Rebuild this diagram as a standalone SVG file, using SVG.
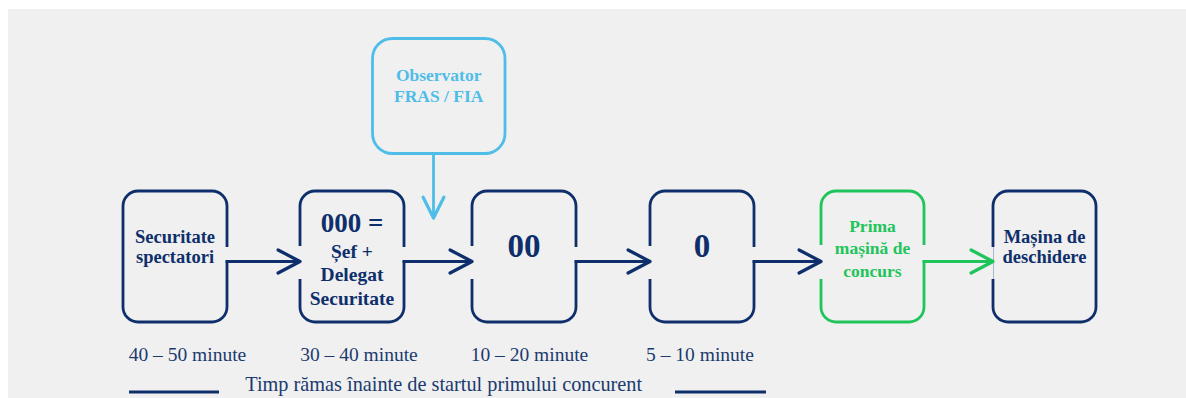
<svg xmlns="http://www.w3.org/2000/svg" width="1186" height="398" viewBox="0 0 1186 398">
<defs>
<style>
.bg{fill:#f0f0f0}
.box{fill:none;stroke:#0e2f6b;stroke-width:2.8}
.gbox{fill:none;stroke:#1fc45a;stroke-width:2.8}
.obox{fill:none;stroke:#4fbde8;stroke-width:2.8}
.gap{fill:#f0f0f0}
.t{font-family:"Liberation Serif","Times New Roman",serif;font-weight:bold;fill:#0e2f6b;text-anchor:middle}
.tg{fill:#1fc45a}
.to{fill:#4fbde8}
.lbl{font-family:"Liberation Serif","Times New Roman",serif;font-size:19.5px;fill:#1b3a6f;text-anchor:middle}
.lbl2{font-size:20.3px}
.c{fill:none;stroke:#0e2f6b;stroke-width:2.8}
.cg{fill:none;stroke:#1fc45a;stroke-width:2.8}
.co{fill:none;stroke:#4fbde8;stroke-width:2.8}
</style>
<marker id="ah" markerUnits="userSpaceOnUse" markerWidth="30" markerHeight="30" viewBox="-22 -13 26 26" refX="0" refY="0" orient="auto">
<path d="M-19,-10 L0,0 L-19,10" fill="none" stroke="#0e2f6b" stroke-width="2.8" stroke-linecap="round" stroke-linejoin="round"/>
</marker>
<marker id="ahg" markerUnits="userSpaceOnUse" markerWidth="30" markerHeight="30" viewBox="-22 -13 26 26" refX="0" refY="0" orient="auto">
<path d="M-19,-10 L0,0 L-19,10" fill="none" stroke="#1fc45a" stroke-width="2.8" stroke-linecap="round" stroke-linejoin="round"/>
</marker>
<marker id="aho" markerUnits="userSpaceOnUse" markerWidth="30" markerHeight="30" viewBox="-22 -13 26 26" refX="0" refY="0" orient="auto">
<path d="M-18,-9 L0,0 L-18,9" fill="none" stroke="#4fbde8" stroke-width="2.8" stroke-linecap="round" stroke-linejoin="round"/>
</marker>
</defs>
<rect x="0" y="0" width="1186" height="398" fill="#ffffff"/>
<rect class="bg" x="8" y="9" width="1178" height="389"/>

<g id="node-securitate-spectatori">
<rect class="box" x="123" y="191" width="104" height="131" rx="15"/>
<rect class="gap" x="224" y="247" width="6" height="13.5"/>
<text class="t" x="175" y="243" font-size="18.5">Securitate</text>
<text class="t" x="175" y="263" font-size="18.5">spectatori</text>
</g>

<g id="node-000">
<rect class="box" x="300" y="191" width="104" height="131" rx="15"/>
<rect class="gap" x="297" y="246" width="6" height="33"/>
<rect class="gap" x="401" y="247" width="6" height="13.5"/>
<text class="t" x="352" y="232" font-size="27">000 =</text>
<text class="t" x="352" y="257.5" font-size="19.5">Șef +</text>
<text class="t" x="352" y="281" font-size="19.5">Delegat</text>
<text class="t" x="352" y="305" font-size="19.5">Securitate</text>
</g>

<g id="node-00">
<rect class="box" x="472" y="191" width="104" height="131" rx="15"/>
<rect class="gap" x="469" y="246" width="6" height="33"/>
<rect class="gap" x="573" y="247" width="6" height="13.5"/>
<text class="t" x="524" y="256.5" font-size="33">00</text>
</g>

<g id="node-0">
<rect class="box" x="650" y="191" width="104" height="131" rx="15"/>
<rect class="gap" x="647" y="246" width="6" height="33"/>
<rect class="gap" x="751" y="247" width="6" height="13.5"/>
<text class="t" x="702" y="256.5" font-size="33">0</text>
</g>

<g id="node-prima-masina">
<rect class="gbox" x="821" y="191" width="103" height="131" rx="15"/>
<rect class="gap" x="818" y="245" width="6" height="34"/>
<rect class="gap" x="921" y="245" width="6" height="15.5"/>
<text class="t tg" x="872.5" y="231.5" font-size="17.5">Prima</text>
<text class="t tg" x="872.5" y="254" font-size="17.5">mașină de</text>
<text class="t tg" x="872.5" y="276.5" font-size="17.5">concurs</text>
</g>

<g id="node-masina-deschidere">
<rect class="box" x="993" y="191" width="103" height="131" rx="15"/>
<rect class="gap" x="990" y="247" width="6" height="32"/>
<line x1="993.5" y1="247" x2="993.5" y2="279" stroke="#a9b6cf" stroke-width="1"/>
<text class="t" x="1044.5" y="242.5" font-size="18.5">Mașina de</text>
<text class="t" x="1044.5" y="263" font-size="18.5">deschidere</text>
</g>

<g id="node-observator">
<rect class="obox" x="372.5" y="38.5" width="132.5" height="115" rx="20"/>
<text class="t to" x="438.7" y="81" font-size="17.5">Observator</text>
<text class="t to" x="438.7" y="102" font-size="17.5">FRAS / FIA</text>
</g>

<g id="connectors">
<path class="c" d="M225.6,261.5 H300" marker-end="url(#ah)"/>
<path class="c" d="M402.6,261.5 H472" marker-end="url(#ah)"/>
<path class="c" d="M574.6,261.5 H650" marker-end="url(#ah)"/>
<path class="c" d="M752.6,261.5 H821" marker-end="url(#ah)"/>
<path class="cg" d="M922.6,261.5 H993" marker-end="url(#ahg)"/>
<path class="co" d="M433.5,153.5 V218" marker-end="url(#aho)"/>
</g>

<g id="timeline">
<text class="lbl" x="187.5" y="361">40 – 50 minute</text>
<text class="lbl" x="359" y="361">30 – 40 minute</text>
<text class="lbl" x="529.5" y="361">10 – 20 minute</text>
<text class="lbl" x="700" y="361">5 – 10 minute</text>
<text class="lbl lbl2" x="443.7" y="391">Timp rămas înainte de startul primului concurent</text>
<line x1="129" y1="392" x2="219" y2="392" stroke="#0e2f6b" stroke-width="3"/>
<line x1="675" y1="392" x2="766" y2="392" stroke="#0e2f6b" stroke-width="3"/>
</g>
</svg>
